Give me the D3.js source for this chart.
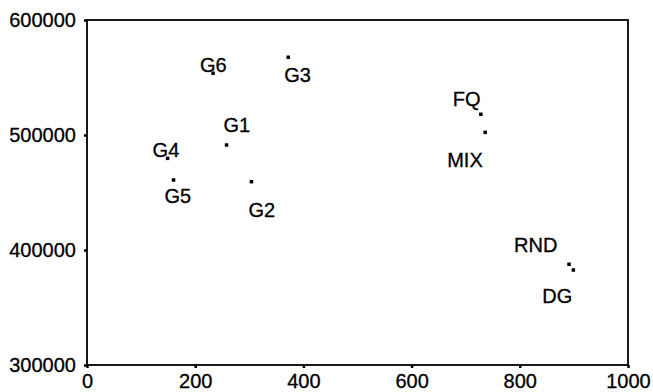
<!DOCTYPE html>
<html lang="en">
<head>
<meta charset="UTF-8">
<title>Scatter</title>
<style>
  body { margin: 0; background: #fff; }
  text { font-family: "Liberation Sans", Arial, sans-serif; fill: #000; stroke: #000; stroke-width: 0.3px; }
  .frame { fill: none; stroke: #000; stroke-width: 1.8px; }
  .axis path { display: none; }
  .axis line { stroke: #000; stroke-width: 2.5px; }
  .axis text { font-size: 20px; }
  .lbl { font-size: 20px; }
</style>
</head>
<body>
<script src="https://d3js.org/d3.v7.min.js"></script>
<script>
// data
const names = ['G1', 'G2', 'G3', 'G4', 'G5', 'G6', 'FQ', 'MIX', 'RND', 'DG'];
const xVals = [258, 304, 372, 149, 160, 233, 728, 736, 891, 899];
const yVals = [491300, 459400, 567600, 479700, 460900, 553700, 518000, 502300, 387600, 382600];
const xTicks = [0, 200, 400, 600, 800, 1000];
const yTicks = [300000, 400000, 500000, 600000];

// label offsets from the point (px)
const labelDx = [-3, -3, -4, -15, -9, -13, -28, -38, -55, -31];
const labelDy = [-13, 35, 25, -1, 23, -1, -8, 35, -12, 33];

const W = 653, H = 392;
const margin = { top: 20, right: 25, bottom: 27, left: 87 };
const width = W - margin.left - margin.right;
const height = H - margin.top - margin.bottom;

const svg = d3.select('body').append('svg')
  .attr('width', W)
  .attr('height', H);

const g = svg.append('g')
  .attr('transform', `translate(${margin.left},${margin.top})`);

const x = d3.scaleLinear().domain([0, 1000]).range([0, width]);
const y = d3.scaleLinear().domain([300000, 600000]).range([height, 0]);

g.append('g')
  .attr('class', 'axis')
  .attr('transform', `translate(0,${height})`)
  .call(d3.axisBottom(x).tickValues(xTicks).tickSize(3).tickPadding(6).tickFormat(d3.format('d')));

g.append('g')
  .attr('class', 'axis')
  .call(d3.axisLeft(y).tickValues(yTicks).tickSize(3).tickPadding(8).tickFormat(d3.format('d')));

g.append('rect')
  .attr('class', 'frame')
  .attr('width', width)
  .attr('height', height);

const pts = names.map((n, i) => ({ name: n, x: xVals[i], y: yVals[i], dx: labelDx[i], dy: labelDy[i] }));

g.selectAll('.pt')
  .data(pts)
  .enter().append('rect')
  .attr('class', 'pt')
  .attr('x', d => x(d.x) - 1.75)
  .attr('y', d => y(d.y) - 1.75)
  .attr('width', 3.5)
  .attr('height', 3.5)
  .attr('fill', '#000');

g.selectAll('.lbl')
  .data(pts)
  .enter().append('text')
  .attr('class', 'lbl')
  .attr('x', d => x(d.x) + d.dx)
  .attr('y', d => y(d.y) + d.dy)
  .text(d => d.name);
</script>
</body>
</html>
